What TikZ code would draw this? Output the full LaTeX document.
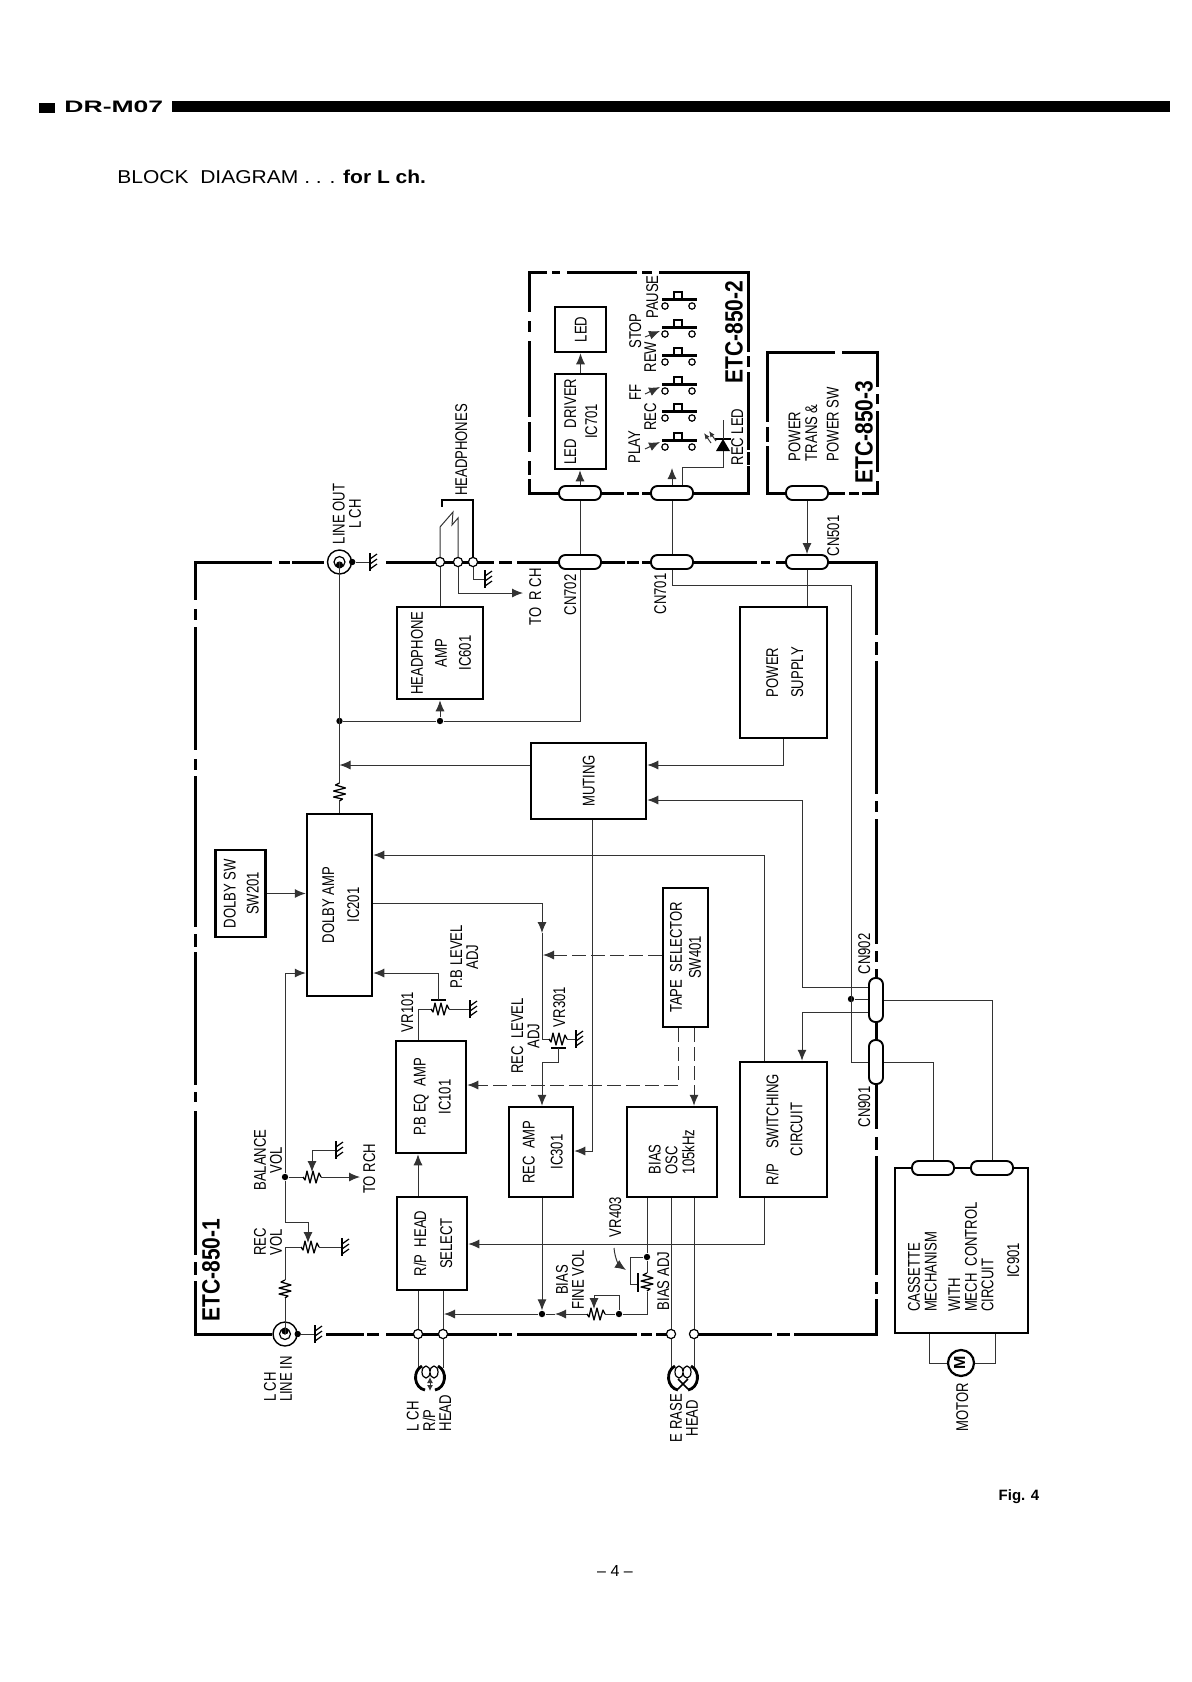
\documentclass[tikz,border=0pt]{standalone}
\usepackage{fontspec}
\setmainfont{Liberation Sans}
\usetikzlibrary{arrows.meta}
\newfontfamily\lab[FakeStretch=0.77]{Liberation Sans}
\newfontfamily\etcf[FakeStretch=0.84]{Liberation Sans}
\newfontfamily\hdf[FakeStretch=1.6]{Liberation Sans}
\newfontfamily\ttlf[FakeStretch=1.13]{Liberation Sans}
\newcommand\rt[3][c]{\hspace*{2pt}\rotatebox{90}{\lab\fontsize{8.5}{#2}\selectfont\begin{tabular}{@{}#1@{}}#3\end{tabular}}}
\newcommand\rb[1]{\hspace*{2pt}\rotatebox{90}{\etcf\bfseries\fontsize{12.5}{14}\selectfont #1}}
\tikzset{
  x=0.5pt,y=-0.5pt,
  blk/.style 2 args={draw,line width=1.25pt,minimum width=#1*0.5pt,minimum height=#2*0.5pt,inner sep=0pt},
  brd/.style={line width=1.5pt,line cap=rect},
  wire/.style={line width=0.5pt,draw=black!80},
  ar/.style={wire,-{Latex[length=5.5pt,width=4.5pt]}},
  dar/.style={ar,dash pattern=on 7pt off 2.5pt},
  txt/.style={inner sep=0pt},
  padn/.style={circle,draw,fill=white,line width=0.6pt,minimum size=4.6pt,inner sep=0pt},
  jn/.style={circle,fill=black,minimum size=3.2pt,inner sep=0pt},
  pillh/.style={draw,fill=white,line width=0.95pt,rounded corners=3.2pt,minimum width=21pt,minimum height=7pt,inner sep=0pt},
  pillv/.style={draw,fill=white,line width=0.95pt,rounded corners=3.2pt,minimum width=7pt,minimum height=22pt,inner sep=0pt},
  jack/.style={circle,draw,line width=0.7pt,minimum size=12pt,inner sep=0pt,fill=white},
  gnd/.pic={\draw[line width=0.9pt] (0,-9)--(0,9);
    \draw[line width=0.6pt] (0,-3)--(7,-8) (0,2)--(7,-3) (0,7)--(7,2);},
  zz/.pic={\draw[line width=0.65pt,line join=round] (-9,0)--(-7,3)--(-5,-6)--(-2,6)--(1,-6)--(4,6)--(7,-4)--(9,0);},
  swt/.pic={\draw[line width=0.6pt] (0,0) circle[radius=3.2] (27,0) circle[radius=3.2];
    \draw[line width=1.5pt] (-3,-7)--(32,-7);
    \draw[line width=0.9pt] (9,-7)--(9,-14)--(17,-14)--(17,-7);},
}
\begin{document}
\begin{tikzpicture}
\useasboundingbox (0,0) rectangle (1192,1682);
\fill[white] (0,0) rectangle (1192,1682);
% header
\fill (39,103) rectangle (55,113);
\node[txt,anchor=west] (hdr) at (64,106.5) {\hdf\bfseries\fontsize{8.3}{10}\selectfont DR-M07};
\fill (172,101) rectangle (1170,112);
\node[txt,anchor=west] (ttl) at (117,177) {\ttlf\fontsize{9.3}{11}\selectfont BLOCK\ \ DIAGRAM . . . \textbf{for L ch.}};
\node[txt] (fig) at (1019,1497) {\bfseries\fontsize{7.5}{9}\selectfont Fig. 4};
\node[txt] (pg) at (615,1571) {\fontsize{8}{10}\selectfont -- 4 --};
% ETC-850-1 border
\foreach \a/\b in {195/270,280/288,293/322,387/492,500/510,518/560,600/623,628/637,643/652,693/755,762/768,777/787,828/876}
  \draw[brd] (\a,562)--(\b,562);
\foreach \a/\b in {195/270,327/362,368/377,387/495,500/510,518/635,642/650,657/667,698/770,778/788,795/876}
  \draw[brd] (\a,1334)--(\b,1334);
\foreach \a/\b in {562/598,610/618,628/748,760/768,777/925,935/945,953/1083,1093/1100,1112/1253,1263/1273,1282/1334}
  \draw[brd] (195,\a)--(195,\b);
\foreach \a/\b in {562/633,643/653,662/792,802/810,820/942,952/960,970/1127,1138/1148,1157/1273,1283/1292,1300/1334}
  \draw[brd] (876,\a)--(876,\b);
% ETC-850-2 border
\foreach \a/\b in {529/545,553/558,568/635,643/650,660/748}
  \draw[brd] (\a,272)--(\b,272);
\foreach \a/\b in {529/622,628/637,643/700,693/748}
  \draw[brd] (\a,493)--(\b,493);
\foreach \a/\b in {272/310,322/330,342/415,423/450,462/473,480/493}
  \draw[brd] (529,\a)--(529,\b);
\foreach \a/\b in {272/350,357/365,373/448,453/463,467/493}
  \draw[brd] (748,\a)--(748,\b);
% ETC-850-3 border
\foreach \a/\b in {767/828,830/833,843/877}
  \draw[brd] (\a,352)--(\b,352);
\foreach \a/\b in {767/843,850/857,863/877}
  \draw[brd] (\a,493)--(\b,493);
\foreach \a/\b in {352/420,428/440,447/493}
  \draw[brd] (767,\a)--(767,\b);
\foreach \a/\b in {352/385,395/402,412/470,482/493}
  \draw[brd] (877,\a)--(877,\b);
% blocks
\node[blk={65}{182}] (dolby) at (339.5,905) {\rt{12.5}{DOLBY AMP\\IC201}};
\node[blk={49}{87}] (dolbysw) at (240.5,893.5) {\rt{11.5}{DOLBY SW\\SW201}};
\node[blk={86}{92}] (hpamp) at (440,653) {\rt{12}{HEADPHONE\\AMP\\IC601}};
\node[blk={115}{76}] (muting) at (588.5,781) {\rt{10}{MUTING}};
\node[blk={87}{131}] (pwr) at (783.5,672.5) {\rt{12.5}{POWER\\SUPPLY}};
\node[blk={45}{139}] (tape) at (685.5,957.5) {\rt{9.5}{TAPE\ \ SELECTOR\\SW401}};
\node[blk={70}{112}] (pbeq) at (431,1097) {\rt{12.5}{P.B EQ\ \ AMP\\IC101}};
\node[blk={64}{90}] (recamp) at (541,1152) {\rt{14}{REC\ \ AMP\\IC301}};
\node[blk={90}{90}] (bias) at (672,1152) {\rt[l]{8}{BIAS\\OSC\\105kHz}};
\node[blk={87}{135}] (rpsw) at (783.5,1129.5) {\rt{12}{R/P\ \ \ \ SWITCHING\\CIRCUIT}};
\node[blk={70}{93}] (rphead) at (432,1243.5) {\rt{13}{R/P\ \ HEAD\\SELECT}};
\node[blk={133}{165}] (cassette) at (961.5,1250.5) {};
\node[blk={51}{45}] (led) at (580.5,329.5) {\rt{10}{LED}};
\node[blk={51}{95}] (leddrv) at (580.5,421.5) {\rt{10.5}{LED\ \ \ DRIVER\\IC701}};
\node[txt] (casstxt) at (964,1257) {\rt[l]{8}{CASSETTE\\MECHANISM\\[3.5pt]WITH\\MECH\ \ CONTROL\\CIRCUIT\\[4.5pt]\hspace{17pt}IC901}};
% connectors (pill shaped)
\node[pillh] (cn702a) at (580,493) {};
\node[pillh] (cn702b) at (580,562) {};
\node[pillh] (cn701a) at (672,493) {};
\node[pillh] (cn701b) at (672,562) {};
\node[pillh] (cn501a) at (807,493) {};
\node[pillh] (cn501b) at (807,562) {};
\node[pillv] (cn902) at (876,1000) {};
\node[pillv] (cn901) at (876,1062) {};
\node[pillh] (cp1) at (933,1168) {};
\node[pillh] (cp2) at (992,1168) {};
\draw[line width=1.3pt] (cp1.east)--(cp2.west);
% pads and jacks
\node[padn] (p1) at (440,562) {};
\node[padn] (p2) at (458,562) {};
\node[padn] (p3) at (473,562) {};
\node[padn] (p4) at (418,1334) {};
\node[padn] (p5) at (443,1334) {};
\node[padn] (p6) at (671,1334) {};
\node[padn] (p7) at (694,1334) {};
\node[jack] (jackout) at (339.5,562) {};
\node[jack] (jackin) at (285,1334) {};
\draw[line width=0.6pt] (jackout) circle[radius=5.5] (jackin) circle[radius=5.5];
\fill (jackout) ++(0,3) circle[radius=3.6];
\fill (jackin) ++(0,-3) circle[radius=3.6];
\node[jn] (jd1) at (jackout.east) {};
\node[jn] (jd2) at (jackin.east) {};
\node[circle,draw,line width=1.1pt,minimum size=13pt,inner sep=0pt] (motor) at (961,1363) {\hspace*{-1.5pt}\rotatebox{90}{\bfseries\fontsize{8}{9}\selectfont M}};
% junctions
\node[jn] (ja) at (339.5,721) {};
\node[jn] (jb) at (440,721) {};
\node[jn] (jc) at (851,999) {};
\node[jn] (jd) at (542,1314) {};
\node[jn] (je) at (285,1177) {};
\node[jn] (jf) at (619,1314) {};
\node[jn] (jg) at (647,1257) {};
% grounds
\draw[wire] (jd1)--(370,562); \pic at (370,562) {gnd};
\draw[wire] (jd2)--(315,1334); \pic at (315,1334) {gnd};
\draw[wire] (p3)--(473,579)--(485,579); \pic at (485,579) {gnd};
% line out chain
\draw[wire] (jackout.center)--(339.5,783);
\pic[rotate=90] at (339.5,792) {zz};
\draw[wire] (339.5,801)--(dolby.north);
\draw[wire] (ja)--(jb)--(580,721)--(cn702b.south);
\draw[ar] (jb)--(hpamp.south);
\draw[ar] (muting.west |- 0,765)--(339.5,765);
% headphones
\draw[wire] (p1)--(hpamp.north);
\draw[wire] (p1.north)--(440,527)--(453,512)--(452,525)--(458,518)--(p2.north);
\draw[ar] (p2.south)--(458,593)--(523,593);
\draw[line width=1.2pt] (p3.north)--(473,500)--(442,500)--(442,507);
% board interconnect
\draw[wire] (cn702b.north)--(cn702a.south);
\draw[ar] (cn702a.north)--(leddrv.south -| cn702a.north);
\draw[ar] (leddrv.north)--(led.south);
\draw[wire] (cn701b.north)--(cn701a.south);
\draw[ar] (cn701a.north)--(672,468);
\draw[wire] (682,0 |- cn701a.north)--(682,467)--(723,467)--(723,451);
\draw[ar] (cn501a.south)--(cn501b.north);
\draw[wire] (cn501b.south)--(807,0 |- pwr.north);
\draw[wire] (cn701b.south)--(672,585)--(851,585)--(851,1062)--(cn901.west);
\draw[ar] (pwr.south)--(783.5,765)--(muting.east |- 0,765);
\draw[ar] (cn902.west |- 0,987)--(802,987)--(802,800)--(muting.east |- 0,800);
\draw[wire] (jc)--(cn902.west |- jc);
\draw[ar] (cn902.west |- 0,1012)--(802,1012)--(802,0 |- rpsw.north);
\draw[wire] (cn902.east)--(992,1000)--(cp2.north);
\draw[wire] (cn901.east)--(933,1062)--(cp1.north);
\draw[ar] (764,0 |- rpsw.north)--(764,855)--(dolby.east |- 0,855);
\draw[ar] (764,0 |- rpsw.south)--(764,1244)--(rphead.east |- 0,1244);
\draw[ar] (dolbysw.east)--(dolby.west |- dolbysw.east);
% Tape selector
\draw[dar] (tape.west |- 0,955)--(543,955);
\draw[dar] (678,0 |- tape.south)--(678,1085)--(pbeq.east |- 0,1085);
\draw[dar] (694,0 |- tape.south)--(694,0 |- bias.north);
% muting to rec amp
\draw[ar] (592,0 |- muting.south)--(592,1151)--(recamp.east |- 0,1151);
% dolby out and rec level
\draw[ar] (dolby.east |- 0,903)--(542,903)--(542,933);
\draw[wire] (542,933)--(542,1039)--(549,1039);
\pic at (558,1039) {zz};
\draw[wire] (567,1039)--(576,1039); \pic at (576,1039) {gnd};
\draw[line width=0.8pt] (551,1048)--(566,1048);
\draw[ar] (558.5,1048)--(558.5,1062)--(542,1062)--(542,0 |- recamp.north);
% PB level
\draw[wire] (418,0 |- pbeq.north)--(418,1009)--(431,1009);
\pic at (440,1009) {zz};
\draw[wire] (449,1009)--(470,1009); \pic at (470,1009) {gnd};
\draw[line width=0.8pt] (431,1000)--(446,1000);
\draw[ar] (438,1000)--(438,973)--(dolby.east |- 0,973);
% balance and rec vol
\draw[ar] (je)--(285,973)--(dolby.west |- 0,973);
\draw[wire] (je)--(303,1177);
\pic at (312,1177) {zz};
\draw[ar] (321,1177)--(360,1177);
\draw[ar] (336,1150)--(312,1150)--(312,1172); \pic at (336,1150) {gnd};
\draw[ar] (je)--(285,1222)--(308,1222)--(308,1243);
\pic at (310,1247) {zz};
\draw[wire] (319,1247)--(342,1247); \pic at (342,1247) {gnd};
\draw[wire] (301,1247)--(285,1247)--(285,1280);
\pic[rotate=90] at (285,1289) {zz};
\draw[wire] (285,1298)--(jackin.center);
% heads wiring
\draw[ar] (418,0 |- rphead.north)--(418,0 |- pbeq.south);
\draw[wire] (418,0 |- rphead.south)--(p4)--(418,1368);
\draw[wire] (443,0 |- rphead.south)--(p5)--(443,1368);
\draw[wire] (671,0 |- bias.south)--(p6)--(671,1368);
\draw[wire] (694,0 |- bias.south)--(p7)--(694,1368);
% rec amp / bias
\draw[ar] (542,0 |- recamp.south)--(jd);
\draw[ar] (jd)--(444,1314);
\draw[ar] (587,1314)--(555,1314);
\draw[wire] (555,1314)--(jd);
\pic at (596,1314) {zz};
\draw[wire] (605,1314)--(jf)--(647,1314)--(647,1292);
\pic[rotate=90] at (647,1282) {zz};
\draw[wire] (647,1273)--(jg)--(647,0 |- bias.south);
\draw[ar] (jf)--(619,1295)--(594,1295)--(594,1309);
\draw[wire] (jg)--(630,1257)--(630,1284)--(638,1284);
\draw[line width=0.8pt] (638,1273)--(638,1292);
\draw[ar] (614,1248) .. controls (615,1260) and (620,1266) .. (626,1270);
% heads
\draw[line width=1.4pt] (422,1366) .. controls (412,1371) and (414,1388) .. (425,1390);
\draw[line width=1.4pt] (438,1366) .. controls (448,1371) and (446,1388) .. (435,1390);
\draw[line width=0.6pt] (426,1372) ellipse [x radius=4,y radius=6] (434,1372) ellipse [x radius=4,y radius=6];
\draw[wire,{Latex[length=3pt,width=3pt]}-{Latex[length=3pt,width=3pt]}] (430,1377)--(430,1391);
\draw[line width=1.4pt] (675,1366) .. controls (665,1371) and (667,1388) .. (678,1390);
\draw[line width=1.4pt] (691,1366) .. controls (701,1371) and (699,1388) .. (688,1390);
\draw[line width=0.6pt] (679,1372) ellipse [x radius=4,y radius=6] (687,1372) ellipse [x radius=4,y radius=6];
\draw[line width=0.8pt] (678,1379)--(688,1389) (688,1379)--(678,1389);
% motor
\draw[wire] (929,0 |- cassette.south)--(929,1363)--(motor.west);
\draw[wire] (995,0 |- cassette.south)--(995,1363)--(motor.east);
% switches
\pic at (665,447) {swt};
\pic at (665,418) {swt};
\pic at (665,391) {swt};
\pic at (665,362) {swt};
\pic at (665,334) {swt};
\pic at (665,306) {swt};
\draw[ar] (645,449)--(660,442);
\draw[ar] (645,394)--(660,387);
\draw[ar] (645,337)--(660,331);
% REC LED diode
\fill (716,451)--(730,451)--(723,439)--cycle;
\draw[line width=0.9pt] (715,439)--(731,439);
\draw[wire] (723,439)--(723,420);
\draw[wire,-{Latex[length=3pt,width=2.5pt]}] (716,441)--(709,431);
\draw[wire,-{Latex[length=3pt,width=2.5pt]}] (711,443)--(704,433);
% labels
\node[txt] (tlo) at (347,514) {\rt{7.5}{LINE OUT\\L CH}};
\node[txt] (thp) at (461,450) {\rt{10}{HEADPHONES}};
\node[txt] (ttr) at (535,597) {\rt{10}{TO\ \ R CH}};
\node[txt] (t702) at (570,595) {\rt{10}{CN702}};
\node[txt] (t701) at (660,594) {\rt{10}{CN701}};
\node[txt] (t501) at (833,536) {\rt{10}{CN501}};
\node[txt] (t902) at (864,954) {\rt{10}{CN902}};
\node[txt] (t901) at (864,1107) {\rt{10}{CN901}};
\node[txt] (tplay) at (634,447) {\rt{10}{PLAY}};
\node[txt] (trec) at (650,417) {\rt{10}{REC}};
\node[txt] (tff) at (635,392) {\rt{10}{FF}};
\node[txt] (trew) at (650,357) {\rt{10}{REW}};
\node[txt] (tstop) at (635,331) {\rt{10}{STOP}};
\node[txt] (tpause) at (652,297) {\rt{10}{PAUSE}};
\node[txt] (tled) at (737,437) {\rt{10}{REC LED}};
\node[txt] (tpow) at (814,424) {\rt[l]{8}{POWER\\TRANS \&\\[2.5pt]POWER SW}};
\node[txt] (tbal) at (268,1160) {\rt{7}{BALANCE\\VOL}};
\node[txt] (trv) at (268,1242) {\rt{7}{REC\\VOL}};
\node[txt] (ttr2) at (369,1169) {\rt{10}{TO RCH}};
\node[txt] (tli) at (278,1379) {\rt[l]{7}{L CH\\LINE IN}};
\node[txt] (trph) at (429,1413) {\rt[l]{7}{L CH\\R/P\\HEAD}};
\node[txt] (ter) at (684,1418) {\rt{7}{E RASE\\HEAD}};
\node[txt] (tmot) at (962,1407) {\rt{10}{MOTOR}};
\node[txt] (t403) at (615,1217) {\rt{10}{VR403}};
\node[txt] (tfine) at (570,1280) {\rt{7}{BIAS\\FINE VOL}};
\node[txt] (tadj) at (663,1281) {\rt{10}{BIAS ADJ}};
\node[txt] (tpbl) at (464.5,957) {\rt{7.5}{P.B LEVEL\\ADJ}};
\node[txt] (t101) at (407,1012) {\rt{10}{VR101}};
\node[txt] (trecl) at (525.5,1036) {\rt{7.5}{REC\ \ LEVEL\\ADJ}};
\node[txt] (t301) at (559,1007) {\rt{10}{VR301}};
\node[txt] (te1) at (209,1270) {\rb{ETC-850-1}};
\node[txt] (te2) at (732,332) {\rb{ETC-850-2}};
\node[txt] (te3) at (862,432) {\rb{ETC-850-3}};
\end{tikzpicture}
\end{document}
